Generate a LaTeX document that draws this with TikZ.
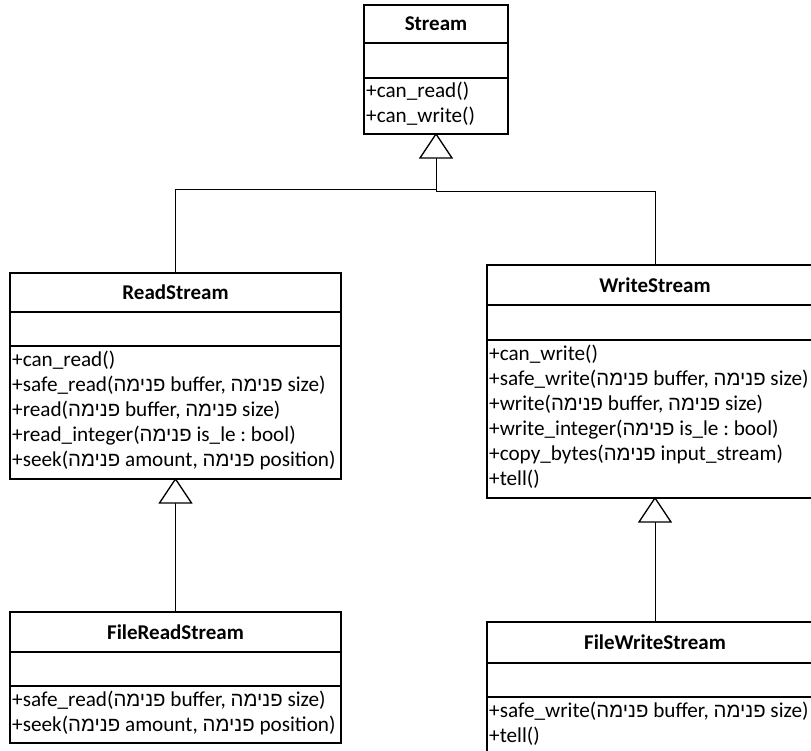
\documentclass[tikz,border=0pt]{standalone}
\usepackage{fontspec}
\setmainfont{Carlito}
\newfontfamily\hebfont[Script=Hebrew,Scale=0.96]{Liberation Sans}
\TeXXeTstate=1
\frenchspacing
\usetikzlibrary{calc}
% Hebrew parameter-direction word, set right to left
\newcommand\inword{{\hebfont\beginR פנימה\endR}}
\newcommand\titlesize{\fontsize{21}{25}\selectfont}
\newcommand\methsize{\fontsize{21.2}{25}\selectfont}

\tikzset{
  part/.style={draw, line width=1.3pt, anchor=north west, inner sep=0pt, outer sep=0pt},
  titlepart/.style 2 args={part, font=\titlesize\bfseries, minimum width=#1pt, minimum height=#2pt},
  emptypart/.style 2 args={part, minimum width=#1pt, minimum height=#2pt},
  opline/.style={anchor=base west, inner sep=0pt, font=\methsize},
  conn/.style={draw, line width=1pt},
  gentri/.style={draw, line width=1.3pt, fill=white, line join=miter}
}
% one operation per line inside an operations compartment
\newcommand\oplines[2]{%
  \foreach \t [count=\i] in {#2} {%
    \node[opline] (#1-op\i) at ($(#1.north west)+(2,{20+25*(\i-1)})$) {\t};
  }%
}

\begin{document}
\begin{tikzpicture}[x=1pt, y=-1pt]
\useasboundingbox (0,0) rectangle (811,751);
\clip (0,0) rectangle (811,751);

% Stream
\node[titlepart={144}{38}] (stream) at (364,5) {Stream};
\node[emptypart={144}{35}] (stream-attr) at (stream.south west) {};
\node[emptypart={144}{56}] (stream-ops) at (stream-attr.south west) {};
\oplines{stream-ops}{{+can\_read()},{+can\_write()}}

% ReadStream
\node[titlepart={331}{39}] (read) at (10,273) {ReadStream};
\node[emptypart={331}{34}] (read-attr) at (read.south west) {};
\node[emptypart={331}{133}] (read-ops) at (read-attr.south west) {};
\oplines{read-ops}{{+can\_read()},
  {+safe\_read(\inword{} buffer, \inword{} size)},
  {+read(\inword{} buffer, \inword{} size)},
  {+read\_integer(\inword{} is\_le : bool)},
  {+seek(\inword{} amount, \inword{} position)}}

% WriteStream
\node[titlepart={336}{40}] (write) at (487,265) {WriteStream};
\node[emptypart={336}{35}] (write-attr) at (write.south west) {};
\node[emptypart={336}{158}] (write-ops) at (write-attr.south west) {};
\oplines{write-ops}{{+can\_write()},
  {+safe\_write(\inword{} buffer, \inword{} size)},
  {+write(\inword{} buffer, \inword{} size)},
  {+write\_integer(\inword{} is\_le : bool)},
  {+copy\_bytes(\inword{} input\_stream)},
  {+tell()}}

% FileReadStream
\node[titlepart={331}{40}] (fread) at (10,612) {FileReadStream};
\node[emptypart={331}{34}] (fread-attr) at (fread.south west) {};
\node[emptypart={331}{57}] (fread-ops) at (fread-attr.south west) {};
\oplines{fread-ops}{{+safe\_read(\inword{} buffer, \inword{} size)},
  {+seek(\inword{} amount, \inword{} position)}}

% FileWriteStream
\node[titlepart={336}{41}] (fwrite) at (487,622) {FileWriteStream};
\node[emptypart={336}{34}] (fwrite-attr) at (fwrite.south west) {};
\node[emptypart={336}{58}] (fwrite-ops) at (fwrite-attr.south west) {};
\oplines{fwrite-ops}{{+safe\_write(\inword{} buffer, \inword{} size)},
  {+tell()}}

% generalisation connectors
\coordinate (stream-base) at ($(stream-ops.south)+(0,24)$);
\draw[conn] (stream-base) -- ++(0,32) -| (read.north);
\draw[conn] (stream-base) -- ++(0,34) -| (write.north);
\coordinate (read-base) at ($(read-ops.south)+(0,24)$);
\draw[conn] (read-base) -- (fread.north);
\coordinate (write-base) at ($(write-ops.south)+(0,24)$);
\draw[conn] (write-base) -- (fwrite.north);

% hollow triangle heads
\draw[gentri] (stream-ops.south) -- ++(-16,24) -- ++(32,0) -- cycle;
\draw[gentri] (read-ops.south) -- ++(-16,24) -- ++(32,0) -- cycle;
\draw[gentri] (write-ops.south) -- ++(-16,24) -- ++(32,0) -- cycle;
\end{tikzpicture}
\end{document}
